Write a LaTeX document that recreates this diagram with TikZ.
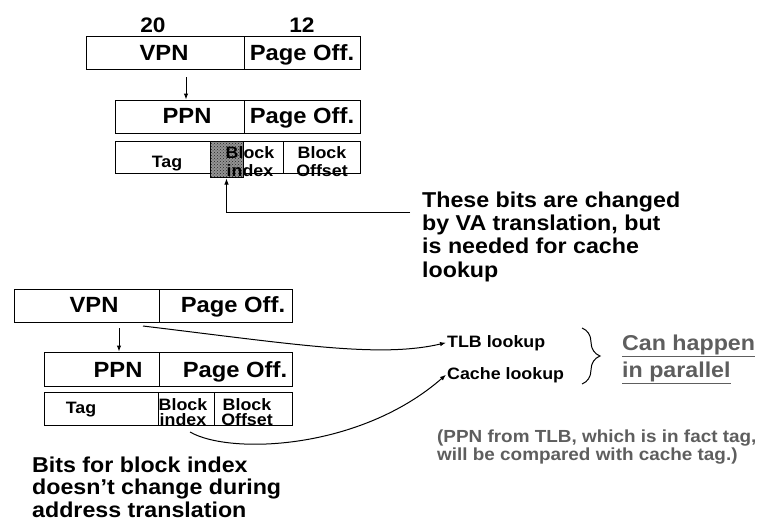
\documentclass[tikz,border=0pt]{standalone}
\usepackage{fontspec}
\setmainfont{Liberation Sans}[FakeStretch=1.08]
\usetikzlibrary{arrows.meta,decorations.pathreplacing,patterns}
\definecolor{notegray}{HTML}{5E5E5E}
\begin{document}
\begin{tikzpicture}[x=1pt,y=-1pt,
  cell/.style={draw, line width=1pt, inner sep=0pt},
  shaded/.style={draw, line width=1pt, inner sep=0pt, fill=black!42,
    postaction={pattern=crosshatch dots, pattern color=black!85}},
  conn/.style={line width=1pt, -{Latex[length=6pt,width=4.5pt]}},
  big/.style={inner sep=0pt, anchor=base, font=\bfseries\fontsize{22}{26}\selectfont},
  bits/.style={inner sep=0pt, anchor=base, font=\bfseries\fontsize{21}{25}\selectfont},
  small/.style={inner sep=0pt, anchor=base, font=\bfseries\fontsize{16.5}{19}\selectfont},
  para/.style={inner sep=0pt, anchor=base west, align=left, font=\bfseries\fontsize{21.5}{23.3}\selectfont},
  lookup/.style={inner sep=1pt, anchor=base west, font=\bfseries\fontsize{16.5}{19}\selectfont},
  emph/.style={inner sep=0pt, anchor=base west, text=notegray, font=\bfseries\fontsize{21.5}{26}\selectfont},
  note/.style={inner sep=0pt, anchor=base west, align=left, text=notegray, font=\bfseries\fontsize{17.5}{18}\selectfont}]
\useasboundingbox (0,0) rectangle (764,523);

% ---- upper address: VPN / PPN / cache fields ----
\node[cell, minimum width=158pt, minimum height=33pt] (vpnA)  at (165,52.5) {};
\node[cell, minimum width=116pt, minimum height=33pt] (offA)  at (302,52.5) {};
\node[cell, minimum width=129pt, minimum height=33pt] (ppnA)  at (179.5,116.5) {};
\node[cell, minimum width=116pt, minimum height=33pt] (offA2) at (302,116.5) {};
\node[cell, minimum width=95pt,  minimum height=32pt] (tagA)  at (162.5,157) {};
\node[cell, minimum width=73pt,  minimum height=32pt] (idxA)  at (246.5,157) {};
\node[cell, minimum width=77pt,  minimum height=32pt] (bofA)  at (321.5,157) {};
\node[shaded, minimum width=33pt, minimum height=36pt] (shade) at (226.5,159) {};

\node[bits] (w20) at (153,32) {20};
\node[bits] (w12) at (302,32) {12};
\node[big] (tVpnA) at (164,60) {VPN};
\node[big] (tOffA) at (302,60) {Page Off.};
\node[big] (tPpnA) at (187,123) {PPN};
\node[big] (tOffA2) at (302,123) {Page Off.};
\node[small] (tTagA) at (167,167) {Tag};
\node[small] (tBlkA) at (250,158) {Block};
\node[small] (tIdxA) at (250,176) {index};
\node[small] (tBo1A) at (322,158) {Block};
\node[small] (tBo2A) at (322,176) {Offset};

\coordinate (aT) at (186,77);
\draw[conn] (aT) -- (aT |- ppnA.north);

% multi-line nodes sit on the baseline of their last line
\node[para] (changed) at (422,277)
  {These bits are changed\\by VA translation, but\\is needed for cache\\lookup};
\coordinate (hatchEnd) at (410,212);
\draw[conn] (hatchEnd) -| ([yshift=-1pt]shade.south);

% ---- lower address: parallel TLB and cache lookup ----
\node[cell, minimum width=145pt, minimum height=33pt] (vpnB)  at (86.5,305.5) {};
\node[cell, minimum width=133pt, minimum height=33pt] (offB)  at (225.5,305.5) {};
\node[cell, minimum width=115pt, minimum height=34pt] (ppnB)  at (101.5,369) {};
\node[cell, minimum width=133pt, minimum height=34pt] (offB2) at (225.5,369) {};
\node[cell, minimum width=114pt, minimum height=33pt] (tagB)  at (101,408.5) {};
\node[cell, minimum width=56pt,  minimum height=33pt] (idxB)  at (186,408.5) {};
\node[cell, minimum width=78pt,  minimum height=33pt] (bofB)  at (253,408.5) {};

\node[big] (tVpnB) at (94,312) {VPN};
\node[big] (tOffB) at (233,312) {Page Off.};
\node[big] (tPpnB) at (118,377) {PPN};
\node[big] (tOffB2) at (235,377) {Page Off.};
\node[small] (tTagB) at (81,413) {Tag};
\node[small] (tBlkB) at (183,410) {Block};
\node[small] (tIdxB) at (183,425.5) {index};
\node[small] (tBo1B) at (247,410) {Block};
\node[small] (tBo2B) at (247,425.5) {Offset};

\coordinate (aB) at (119,328);
\draw[conn] (aB) -- (aB |- ppnB.north);

\node[lookup] (tlb) at (446,347) {TLB lookup};
\node[lookup] (cache) at (446,379) {Cache lookup};

\coordinate (tlbStart) at (143,326);
\draw[conn] (tlbStart) .. controls (300,345) and (380,358) .. (tlb.west);
\coordinate (cacheStart) at (190,432);
\draw[conn] (cacheStart) .. controls (230,455) and (360,450) .. (cache.west);

\coordinate (braceTop) at (582,328);
\coordinate (braceBot) at (582,384);
\draw[line width=1pt, decorate, decoration={brace, amplitude=18pt}] (braceTop) -- (braceBot);

\node[emph] (can) at (622,350) {\underline{Can happen}};
\node[emph] (par) at (622,377) {\underline{in parallel}};

\node[note] (ppnNote) at (437,460)
  {(PPN from TLB, which is in fact tag,\\will be compared with cache tag.)};

\node[para, font=\bfseries\fontsize{21.5}{22.5}\selectfont] (noChange) at (32,517)
  {Bits for block index\\doesn’t change during\\address translation};
\end{tikzpicture}
\end{document}
